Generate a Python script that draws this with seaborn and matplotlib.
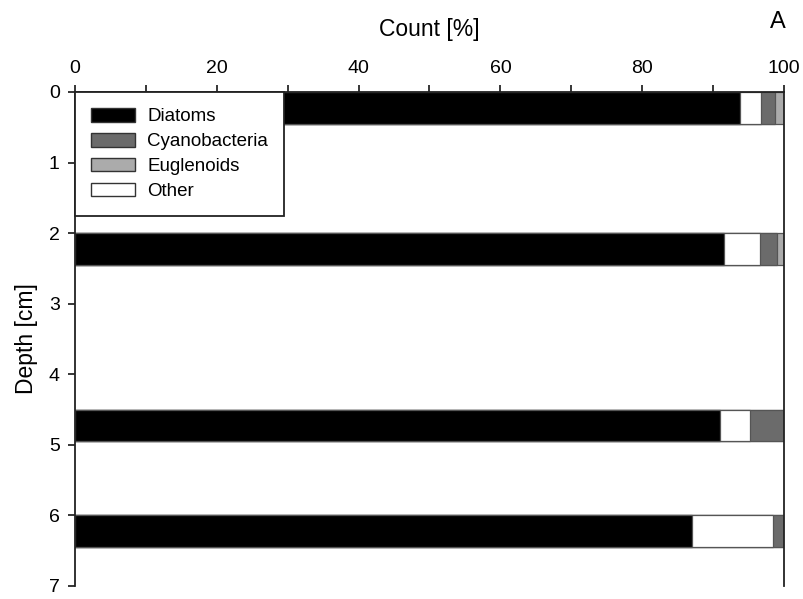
import numpy as np
import pandas as pd
import matplotlib
matplotlib.use("Agg")
import matplotlib.pyplot as plt
from matplotlib.patches import Patch
from matplotlib.ticker import MultipleLocator
import seaborn as sns

depth_top = [0.0, 2.0, 4.5, 6.0]
diatoms = [93.8, 91.5, 91.0, 87.0]
other = [3.0, 5.1, 4.2, 11.5]
cyanobacteria = [1.9, 2.45, 4.8, 1.5]
euglenoids = [1.3, 0.95, 0.0, 0.0]

groups = ["Diatoms", "Other", "Cyanobacteria", "Euglenoids"]
colors = {"Diatoms": "#000000", "Cyanobacteria": "#6b6b6b",
          "Euglenoids": "#ababab", "Other": "#ffffff"}
bar_h = 0.45

sns.set_theme(style="ticks")
plt.rcParams["font.family"] = ["Liberation Sans", "DejaVu Sans"]
plt.rcParams["text.color"] = "black"
plt.rcParams["axes.labelcolor"] = "black"
plt.rcParams["xtick.color"] = "black"
plt.rcParams["ytick.color"] = "black"

fig = plt.figure(figsize=(8.04, 5.99), dpi=100)
ax = fig.add_axes([75/804, 1-586/599, (784-75)/804, (586-92)/599])

vals = np.array([diatoms, other, cyanobacteria, euglenoids])
cum = np.cumsum(vals, axis=0)
centers = [d + bar_h/2 for d in depth_top]

for i in range(len(groups) - 1, -1, -1):
    df = pd.DataFrame({"pos": centers, "val": cum[i]})
    sns.barplot(data=df, x="val", y="pos", orient="h", native_scale=True,
                color=colors[groups[i]], saturation=1, width=bar_h/1.5,
                edgecolor="#555555", linewidth=0.9, ax=ax, errorbar=None)

ax.set_xlim(0, 100)
ax.set_ylim(7, 0)
ax.xaxis.tick_top()
ax.xaxis.set_label_position("top")
ax.xaxis.set_major_locator(MultipleLocator(20))
ax.xaxis.set_minor_locator(MultipleLocator(10))
ax.yaxis.set_major_locator(MultipleLocator(1))
ax.tick_params(axis="x", which="both", direction="out", length=5, width=1.1,
               labelsize=14, pad=6)
ax.tick_params(axis="y", direction="out", length=5, width=1.1, labelsize=14,
               pad=6)
ax.set_xlabel("Count [%]", fontsize=16.5, labelpad=17)
ax.set_ylabel("Depth [cm]", fontsize=16.5, labelpad=8)
for s in ["top", "left", "right"]:
    ax.spines[s].set_visible(True)
    ax.spines[s].set_color("#222222")
    ax.spines[s].set_linewidth(1.3)
ax.spines["bottom"].set_visible(False)

fig.text(778/804, 1-22/599, "A", fontsize=17, ha="center", va="center")

handles = [Patch(facecolor=colors[g], edgecolor="#333333", label=g)
           for g in ["Diatoms", "Cyanobacteria", "Euglenoids", "Other"]]
leg = ax.legend(handles=handles, loc="upper left", bbox_to_anchor=(0, 1),
                frameon=True, fancybox=False, fontsize=13.5,
                handlelength=2.35, handleheight=0.75, labelspacing=0.4,
                borderpad=0.85, borderaxespad=0, handletextpad=0.65,
                framealpha=1)
leg.get_frame().set_edgecolor("#222222")
leg.get_frame().set_facecolor("white")
leg.get_frame().set_linewidth(1.3)
leg.set_zorder(10)

fig.savefig("out.png", dpi=100)
